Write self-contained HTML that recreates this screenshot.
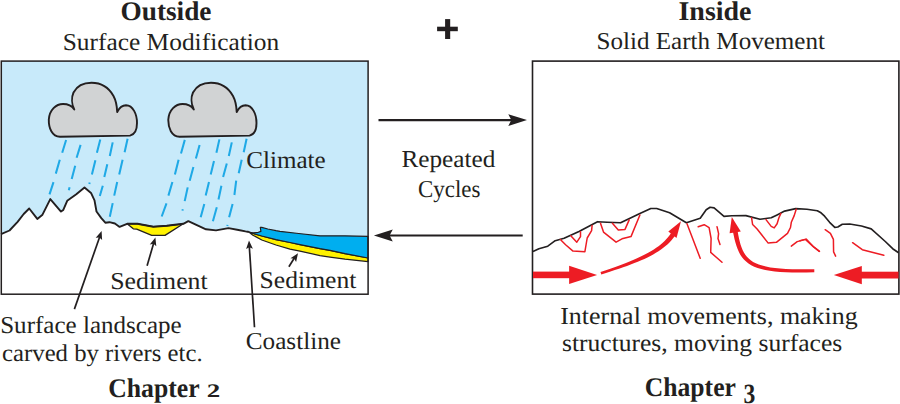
<!DOCTYPE html>
<html><head><meta charset="utf-8"><style>
html,body{margin:0;padding:0;background:#fff;}
body{width:900px;height:404px;overflow:hidden;}
svg{display:block;}
text{font-family:"Liberation Serif",serif;fill:#231f20;text-rendering:geometricPrecision;}
.b{font-weight:bold;}
</style></head><body>
<svg width="900" height="404" viewBox="0 0 900 404">

<!-- titles -->
<text class="b" x="120.5" y="20" font-size="27" textLength="91.0" lengthAdjust="spacingAndGlyphs">Outside</text>
<text x="62.7" y="50" font-size="24.3" textLength="216.6" lengthAdjust="spacingAndGlyphs">Surface Modification</text>
<text class="b" x="678.5" y="19.5" font-size="27" textLength="73.0" lengthAdjust="spacingAndGlyphs">Inside</text>
<text x="596.5" y="49" font-size="24.3" textLength="228.5" lengthAdjust="spacingAndGlyphs">Solid Earth Movement</text>
<rect x="437.1" y="26.7" width="20.7" height="4.5" fill="#231f20"/>
<rect x="445.1" y="19.1" width="5.1" height="19.9" fill="#231f20"/>

<!-- LEFT BOX -->
<rect x="1.3" y="61.1" width="366.8" height="233.1" fill="#c8eafa"/>
<!-- rain cloud 1 -->
<g stroke="#1fa9e6" stroke-width="2.05" stroke-linecap="butt" fill="none">
<path d="M66.1,140 L62.2,152.8 M59.8,159.8 L55.8,173.6 M53.5,182.1 L49.5,194.4
M80.6,144.9 L76.6,157.8 M75.2,165.7 L71.7,179 M69.6,187.2 L68.8,190.2
M100.3,139.5 L96.9,152.8 M95.4,160.2 L91.9,174.6 M89.7,182.5 L89.3,184
M112.7,142.4 L109.8,156 M107.3,164.2 L104.3,177.1 M102.8,185.7 L99.8,196
M127.6,138.7 L124.6,152.3 M122.6,159.8 L119.2,174.6 M117.2,182 L114.2,195.6 M112.7,203.1 L109.8,216.7"/>
<path d="M184.8,139.9 L181,153.5 M178.6,159.7 L174.9,174.6 M172.4,182 L168.4,195.6 M166.5,203.4 L161.7,216.5
M199.6,144.9 L195.9,158.5 M193.4,167.1 L189.7,180.7 M187.7,187.4 L184.7,201.1 M182.8,209.2 L182.5,210.6
M219.4,139.4 L216.4,152.8 M214,160.9 L210.7,174.6 M209,182 L205.7,195.6 M204.3,203.9 L200.7,217.3
M231.8,142.4 L228.8,156 M226.8,163.4 L223.1,177 M221.4,185.7 L218.5,199.5 M216.8,207.3 L212.9,221.2
M246.6,138.7 L243.7,152.3 M241.7,159.7 L238.7,173.3 M236.2,180.7 L234.4,195 M232.6,203.9 L229.1,217.3 M227.5,224.8 L227.3,226"/>
</g>
<path d="M60,136.8 C52,136.5 48.6,128 48.8,119.5 C49.5,110 56,104 63,104 C68,104 72,106 74.3,109.4 C71.5,104 71.5,97 73.5,92.5 C77,86 84,82.8 91.5,82.8 C101,82.8 109,88 113.5,96 C116.5,101.5 117,107 117.2,112 C119.5,107.5 122,105.3 126,105.3 C133,105.5 137,114 137,123 C137,129 135,134.5 130,135.6 Z" fill="#d1d3d4" stroke="#231f20" stroke-width="1.9" stroke-linejoin="round"/>
<g transform="translate(119.5,0)"><path d="M60,136.8 C52,136.5 48.6,128 48.8,119.5 C49.5,110 56,104 63,104 C68,104 72,106 74.3,109.4 C71.5,104 71.5,97 73.5,92.5 C77,86 84,82.8 91.5,82.8 C101,82.8 109,88 113.5,96 C116.5,101.5 117,107 117.2,112 C119.5,107.5 122,105.3 126,105.3 C133,105.5 137,114 137,123 C137,129 135,134.5 130,135.6 Z" fill="#d1d3d4" stroke="#231f20" stroke-width="1.9" stroke-linejoin="round"/></g>

<!-- ground white -->
<path d="M1,234.1 L9.5,230.5 L17.6,221.8 L23.7,214 L29.2,208.5 L37.3,218.9 L42.5,214.7 L50.3,199.1 L61,211.6 L63.3,209.9 L67.2,200.8 L76.3,194.3 L84.5,187.6 L91,192.9 L94.5,200.4 L96.5,211.5 L101.3,218.1 L105.3,222.7 L109.4,222.2 L114.9,223.5 L119.6,226.9 L127.1,223.8 L137.5,223.8 L153.3,226.7 L166.7,225.8 L183.3,223.8 L188.3,221.2 L206,229.3 L216,230.4 L228.5,228.1 L238.5,230 L245.5,231.4 L247.6,231.7 L248.8,232 L252.9,235.2 L261.8,240 L276,245 L290,249.1 L300,251.2 L320,255.6 L330,257.1 L345,259.2 L368,261.6 L368,294.2 L1,294.2 Z" fill="#fff"/>
<!-- yellow lens -->
<path d="M127.1,223.8 L137.5,223.8 L153.3,226.7 L166.7,225.8 L183.3,223.8 L165,235.4 L151.7,235.4 L136.7,229.2 L133.3,228.8 Z" fill="#fff200" stroke="#231f20" stroke-width="1.3" stroke-linejoin="round"/>
<!-- sea -->
<path d="M248.8,232 L254.7,234 L261.8,236 L276,239.6 L290,242.5 L300,244.6 L320,248.6 L330,250.3 L345,253.6 L368,258 L368,261.6 L345,259.2 L330,257.1 L320,255.6 L300,251.2 L290,249.1 L276,245 L261.8,240 L252.9,235.2 Z" fill="#fff200" stroke="#231f20" stroke-width="1.2" stroke-linejoin="round"/>
<path d="M248.8,232 L252.9,232.9 L258.3,232.3 L260.9,231.4 L260.3,227.3 L261.8,227.4 L267.8,229 L276,230.7 L280,231.3 L298.7,233.5 L320,235.8 L345,235.8 L368,236.4 L368,258 L345,253.6 L330,250.3 L320,248.6 L300,244.6 L290,242.5 L276,239.6 L261.8,236 L254.7,234 Z" fill="#00aeef" stroke="#231f20" stroke-width="1.2" stroke-linejoin="round"/>
<!-- ground line -->
<path d="M1,234.1 L9.5,230.5 L17.6,221.8 L23.7,214 L29.2,208.5 L37.3,218.9 L42.5,214.7 L50.3,199.1 L61,211.6 L63.3,209.9 L67.2,200.8 L76.3,194.3 L84.5,187.6 L91,192.9 L94.5,200.4 L96.5,211.5 L101.3,218.1 L105.3,222.7 L109.4,222.2 L114.9,223.5 L119.6,226.9 L127.1,223.8 L137.5,223.8 L153.3,226.7 L166.7,225.8 L183.3,223.8 L188.3,221.2 L206,229.3 L216,230.4 L228.5,228.1 L238.5,230 L245.5,231.4 L247.6,231.7 L248.8,232" fill="none" stroke="#231f20" stroke-width="1.9" stroke-linejoin="round"/>
<rect x="1.3" y="61.1" width="366.8" height="233.1" fill="none" stroke="#231f20" stroke-width="1.5"/>

<text x="246.2" y="168" font-size="24.3" textLength="79.5" lengthAdjust="spacingAndGlyphs">Climate</text>
<text x="110.2" y="289" font-size="24.3" textLength="97.5" lengthAdjust="spacingAndGlyphs">Sediment</text>
<text x="259.6" y="288" font-size="24.3" textLength="96.8" lengthAdjust="spacingAndGlyphs">Sediment</text>

<!-- label arrows -->
<g stroke="#231f20" stroke-width="1.7" fill="none">
<line x1="74.4" y1="309.1" x2="100" y2="236"/>
<line x1="147.1" y1="265.8" x2="154" y2="242"/>
<line x1="254.5" y1="327.2" x2="249.3" y2="246"/>
<line x1="288.9" y1="266.7" x2="295" y2="257"/>
</g>
<g fill="#231f20">
<path d="M101.6,231.1 L102.1,240.1 L99.4,237.4 L95.7,237.8 Z"/>
<path d="M155.4,237.4 L156.3,246.3 L153.5,243.8 L149.8,244.4 Z"/>
<path d="M249.0,240.6 L252.9,248.7 L249.4,247.3 L246.1,249.1 Z"/>
<path d="M298.0,253.3 L296.1,262.1 L294.2,258.8 L290.5,258.3 Z"/>
</g>

<text x="0.2" y="333" font-size="24.3" textLength="181.5" lengthAdjust="spacingAndGlyphs">Surface landscape</text>
<text x="2.1" y="361" font-size="24.3" textLength="200.5" lengthAdjust="spacingAndGlyphs">carved by rivers etc.</text>
<text x="245.7" y="349" font-size="24.3" textLength="95.3" lengthAdjust="spacingAndGlyphs">Coastline</text>
<text class="b" x="108.2" y="396.6" font-size="27" textLength="91.5" lengthAdjust="spacingAndGlyphs">Chapter</text>
<text class="b" font-size="27" transform="translate(206.8,397.1) scale(1,0.71)">2</text>

<!-- middle arrows -->
<line x1="378.5" y1="120.1" x2="514" y2="120.1" stroke="#231f20" stroke-width="2.2"/>
<path d="M527,120.1 L508.3,114.2 L511.3,120.1 L508.3,126 Z" fill="#231f20"/>
<line x1="386" y1="235.5" x2="522.7" y2="235.5" stroke="#231f20" stroke-width="2.2"/>
<path d="M373.9,235.5 L392.8,229.4 L389.6,235.5 L392.8,241.4 Z" fill="#231f20"/>
<text x="401.4" y="167" font-size="24.3" textLength="94.0" lengthAdjust="spacingAndGlyphs">Repeated</text>
<text x="418.1" y="197" font-size="24.3" textLength="62.3" lengthAdjust="spacingAndGlyphs">Cycles</text>

<!-- RIGHT BOX -->
<rect x="532.5" y="61.1" width="366.4" height="233" fill="#fff" stroke="#231f20" stroke-width="1.6"/>
<path d="M533,251.4 L538.9,248.7 L547.8,246.2 L555.2,240.7 L564.1,238.3 L579,231.4 L597.5,221.7 L607.2,222.2 L620.6,222.8 L639.9,213.6 L650.8,208.5 L656.7,208.5 L669.6,212.8 L686.4,222.7 L700.2,218.3 L706.2,209.8 L710.1,207.3 L714.1,207.9 L724,216.4 L731.8,215.7 L745.9,215.6 L760,219.3 L771.2,217.8 L777.1,214.9 L784.6,211.1 L795.7,208.6 L806.9,209.2 L817.3,210.7 L821,212.8 L824.6,216.2 L829.6,222.3 L834.8,227.4 L837.8,227 L842.3,224.2 L849.7,224 L861.5,226 L871.2,228.9 L885.3,241.5 L892.7,248.7 L898.6,252.7" fill="none" stroke="#231f20" stroke-width="1.65" stroke-linejoin="round"/>
<!-- thin red structure lines -->
<g fill="none" stroke="#ed1c24" stroke-width="1.5" stroke-linejoin="round" stroke-linecap="round">
<path d="M560.4,239.5 L565.6,244.7 L573,251.1 L584.9,251.7 L587.2,238 L591.6,230.6 L592.1,225.4"/>
<path d="M570.8,235.8 L576.8,242.2 L580.5,236.6 L580.5,231.8"/>
<path d="M600.5,223.2 L603.5,232.1 L616.1,242.2 L622,238.8 L631,236.6 L639.9,215"/>
<path d="M612.4,223.2 L618.3,229.9 L625,229.4 L629.2,219.9"/>
<path d="M687,223.7 L700.2,258.3"/>
<path d="M698.2,226.7 L704.2,224.7 L709.1,227.6 L711.1,238.5 L710.7,252.4 L722,262.3"/>
<path d="M717,226.7 L718.6,233.6 L718,238.5 L720,244.5"/>
<path d="M751.6,217.8 L752.6,224.5 L757.1,229 L768.2,243.1 L776.4,242.3 L787.5,233.4 L790.5,227.5 L791.3,222.3 L794.2,215.6 L796.2,209.2"/>
<path d="M766,219.6 L771.2,226.4 L774.2,227.9 L777.1,223.8 L778.9,217.8 L780.9,213.4"/>
<path d="M791.3,246.1 L797.2,241.6 L805.4,239.4 L812.8,246.1 L819.5,251.3"/>
<path d="M800,240.8 L806.2,239.1 L813.6,247 L819.3,251.4"/>
<path d="M825.2,229.7 L830.4,233.4 L833.4,239.3 L833.6,251.9 L835.6,256.1"/>
<path d="M852.6,242.7 L862.3,249.7 L883.8,255.2"/>
</g>
<!-- thick red arrows -->
<g fill="#ed1c24">
<rect x="533" y="271.6" width="37" height="6.6"/>
<path d="M569.1,265.8 L597.1,275 L569.1,284.1 Z"/>
<rect x="861" y="271.7" width="37.5" height="6.8"/>
<path d="M861.8,265.9 L833.8,275.1 L861.8,284.2 Z"/>
<path d="M681,221.2 L668.3,231.4 L676.5,237.9 Z"/>
<path d="M731.8,216.9 L729.6,233.2 L740.8,231.6 Z"/>
</g>
<path d="M601.3,274.4 L606.0,273.0 L610.5,271.5 L614.8,270.1 L619.0,268.7 L623.1,267.3 L627.0,265.9 L630.7,264.5 L634.4,263.1 L637.8,261.7 L641.2,260.3 L644.4,258.9 L647.5,257.4 L650.4,255.9 L653.2,254.4 L655.9,252.8 L658.5,251.2 L661.0,249.5 L663.3,247.8 L665.5,246.0 L667.7,244.2 L669.7,242.2 L671.5,240.2 L673.3,238.1 L674.9,235.9 L671.1,233.1 L669.6,235.2 L668.0,237.2 L666.4,239.1 L664.6,241.0 L662.7,242.8 L660.7,244.5 L658.5,246.2 L656.2,247.8 L653.8,249.5 L651.3,251.0 L648.6,252.6 L645.8,254.1 L642.8,255.6 L639.7,257.1 L636.5,258.6 L633.1,260.0 L629.6,261.5 L625.9,262.9 L622.0,264.4 L618.0,265.9 L613.9,267.4 L609.6,268.9 L605.1,270.4 L600.5,272.0 Z" fill="#ed1c24"/>
<path d="M814.3,269.2 L806.3,269.3 L799.0,269.3 L792.2,269.2 L785.9,268.9 L780.2,268.5 L775.0,268.0 L770.3,267.4 L766.0,266.5 L762.2,265.6 L758.8,264.5 L755.8,263.2 L753.1,261.9 L750.7,260.3 L748.7,258.6 L746.9,256.8 L745.3,254.8 L743.9,252.6 L742.7,250.2 L741.6,247.6 L740.6,244.8 L739.8,241.7 L739.0,238.4 L738.3,234.9 L737.6,231.1 L733.0,231.9 L733.8,235.8 L734.6,239.4 L735.5,242.8 L736.5,246.1 L737.6,249.1 L738.9,252.0 L740.3,254.7 L742.0,257.2 L743.9,259.5 L746.1,261.6 L748.5,263.5 L751.2,265.2 L754.2,266.7 L757.6,267.9 L761.3,269.1 L765.3,270.0 L769.8,270.8 L774.7,271.4 L780.0,271.9 L785.8,272.2 L792.1,272.4 L798.9,272.5 L806.3,272.4 L814.3,272.2 Z" fill="#ed1c24"/>

<text x="560.2" y="324" font-size="24.3" textLength="297.5" lengthAdjust="spacingAndGlyphs">Internal movements, making</text>
<text x="562.0" y="351" font-size="24.3" textLength="280.2" lengthAdjust="spacingAndGlyphs">structures, moving surfaces</text>
<text class="b" x="644.8" y="396.1" font-size="27" textLength="91.1" lengthAdjust="spacingAndGlyphs">Chapter</text>
<text class="b" font-size="27" transform="translate(743.6,402.8) scale(0.875,1.03)">3</text>
</svg>
</body></html>
